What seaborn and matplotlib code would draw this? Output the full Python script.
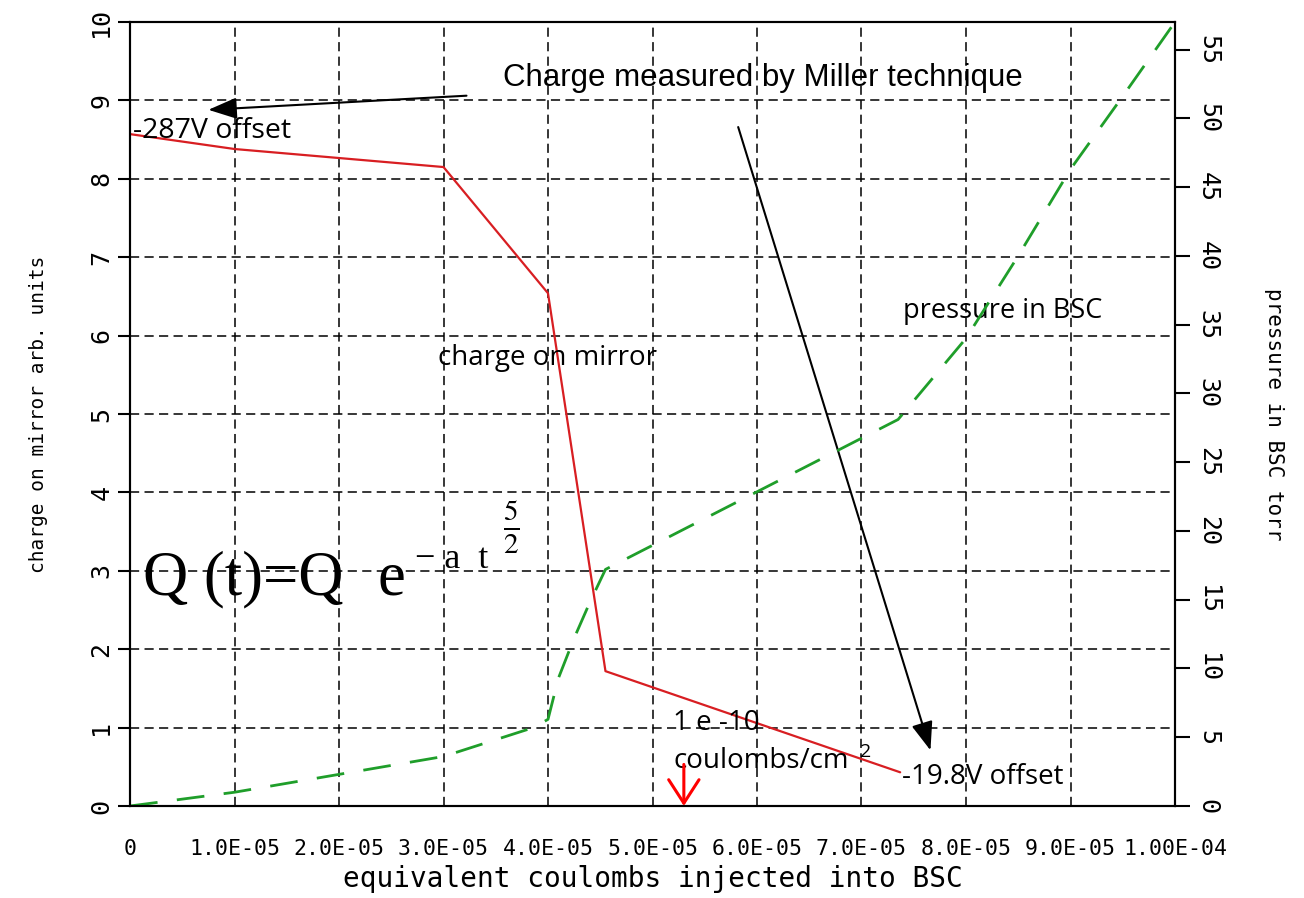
import numpy as np
import pandas as pd
import matplotlib
matplotlib.use("Agg")
import matplotlib.pyplot as plt
import seaborn as sns

# ---- data ----
x_charge = [0.0, 1.0e-5, 3.0e-5, 4.0e-5, 4.55e-5, 7.37e-5]
charge = [8.57, 8.38, 8.15, 6.54, 1.72, 0.43]

x_press = [0.0, 1.0e-5, 2.0e-5, 3.0e-5, 3.86e-5, 4.0e-5, 4.1e-5, 4.25e-5, 4.4e-5,
           4.55e-5, 7.35e-5, 8.0e-5, 8.5e-5, 9.0e-5, 9.5e-5, 1.0e-4]
pressure = [0.0, 1.0, 2.3, 3.6, 5.7, 6.3, 9.3, 12.2, 14.8,
            17.2, 28.1, 34.0, 40.0, 46.3, 51.6, 57.0]

x_ticks = [0, 1e-5, 2e-5, 3e-5, 4e-5, 5e-5, 6e-5, 7e-5, 8e-5, 9e-5, 1e-4]
x_tick_labels = ["0", "1.0E-05", "2.0E-05", "3.0E-05", "4.0E-05", "5.0E-05",
                 "6.0E-05", "7.0E-05", "8.0E-05", "9.0E-05", "1.00E-04"]
left_ticks = list(range(0, 11))
right_ticks = list(range(0, 56, 5))

df_c = pd.DataFrame({"x": x_charge, "q": charge})
df_p = pd.DataFrame({"x": x_press, "p": pressure})

sns.set_style("white")
plt.rcParams.update({
    "mathtext.fontset": "stix",
    "text.color": "black",
    "axes.labelcolor": "black",
    "xtick.color": "black",
    "ytick.color": "black",
})
MONO = ["DejaVu Sans Mono"]
SANS = ["Open Sans", "DejaVu Sans"]
SERIF = ["Liberation Serif", "DejaVu Serif"]

fig = plt.figure(figsize=(13.04, 8.98), dpi=100)
ax = fig.add_axes([130 / 1304, 1 - 806 / 898, 1045 / 1304, 784 / 898])
ax2 = ax.twinx()

RED = "#d81e22"
GREEN = "#1f9e2a"

sns.lineplot(data=df_c, x="x", y="q", ax=ax, color=RED, lw=1.6,
             sort=False, estimator=None)
sns.lineplot(data=df_p, x="x", y="p", ax=ax2, color=GREEN, lw=2.0,
             sort=False, estimator=None, linestyle=(0, (10, 7)))

ax.set_xlim(0, 1e-4)
ax.set_ylim(0, 10)
ax2.set_ylim(0, 57)

ax.set_xticks(x_ticks)
ax.set_xticklabels(x_tick_labels, family=MONO, fontsize=15.5)
ax.set_yticks(left_ticks)
ax.set_yticklabels([str(v) for v in left_ticks], family=MONO, fontsize=18, rotation=90,
                   va="center")
ax2.set_yticks(right_ticks)
ax2.set_yticklabels([str(v) for v in right_ticks], family=MONO, fontsize=18, rotation=-90,
                    va="center")

ax.grid(True, color="black", linestyle=(0, (6, 3.5)), linewidth=1.1)
ax2.grid(False)
ax.set_axisbelow(True)

for a in (ax, ax2):
    for s in a.spines.values():
        s.set_color("black")
        s.set_linewidth(1.5)
        s.set_visible(True)

ax.tick_params(axis="y", direction="out", length=9, width=1.5, pad=3)
ax.tick_params(axis="x", direction="out", length=7, width=1.5, pad=17)
ax2.tick_params(axis="y", direction="out", length=11, width=1.5, pad=4)

ax.set_xlabel("equivalent coulombs injected into BSC", family=MONO, fontsize=20,
              labelpad=4)
ax.set_ylabel("charge on mirror arb. units", family=MONO, fontsize=14, labelpad=30)
ax2.set_ylabel("pressure in BSC torr", family=MONO, fontsize=15, rotation=-90,
               labelpad=46)

# ---- annotations ----
ax.text(3.57e-5, 9.18, "Charge measured by Miller technique", family=["Liberation Sans"],
        fontsize=22.5, ha="left", va="baseline")
ax.annotate("", xy=(0.75e-5, 8.88), xytext=(3.22e-5, 9.06),
            arrowprops=dict(arrowstyle="-|>,head_length=0.8,head_width=0.3",
                            color="black", lw=1.5, mutation_scale=22,
                            shrinkA=0, shrinkB=0))
ax.annotate("", xy=(7.66e-5, 0.71), xytext=(5.82e-5, 8.66),
            arrowprops=dict(arrowstyle="-|>,head_length=0.8,head_width=0.3",
                            color="black", lw=1.5, mutation_scale=22,
                            shrinkA=0, shrinkB=0))

ax.text(0.03e-5, 8.52, "-287V offset", family=SANS, fontsize=20.5, ha="left", va="baseline")
ax.text(7.40e-5, 6.22, "pressure in BSC", family=SANS, fontsize=19.5, ha="left", va="baseline")
ax.text(2.95e-5, 5.63, "charge on mirror", family=SANS, fontsize=20, ha="left", va="baseline")
ax.text(5.2e-5, 0.97, "1 e -10", family=SANS, fontsize=20, ha="left", va="baseline")
ax.text(5.2e-5, 0.48, "coulombs/cm", family=SANS, fontsize=20, ha="left", va="baseline")
ax.text(6.99e-5, 0.63, "2", family=SANS, fontsize=14, ha="left", va="baseline")
ax.text(7.39e-5, 0.28, "-19.8V offset", family=SANS, fontsize=20, ha="left", va="baseline")

ax.annotate("", xy=(5.30e-5, 0.0), xytext=(5.30e-5, 0.53),
            arrowprops=dict(arrowstyle="->,head_length=0.65,head_width=0.42",
                            color="red", lw=2.2, mutation_scale=26,
                            shrinkA=0, shrinkB=0))

# equation
ax.text(0.124e-5, 2.70, "Q (t)=Q", family=SERIF, fontsize=45, ha="left", va="baseline")
ax.text(2.37e-5, 2.70, "e", family=SERIF, fontsize=45, ha="left", va="baseline")
ax.text(2.73e-5, 3.04, "\u2212 a  t", family=SERIF, fontsize=26, ha="left", va="baseline")
ax.text(3.65e-5, 3.56, r"$\frac{5}{2}$", fontsize=30, ha="center", va="center")

fig.savefig("out.png", dpi=100)
